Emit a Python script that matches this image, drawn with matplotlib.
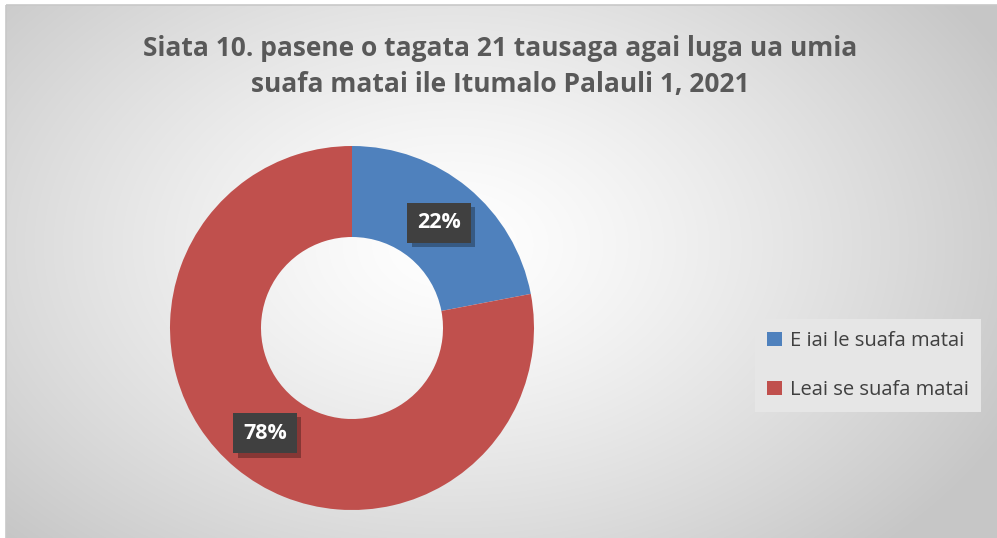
import numpy as np
import matplotlib
matplotlib.use("Agg")
import matplotlib.pyplot as plt
from matplotlib.patches import Rectangle
import matplotlib.patheffects as pe

categories = ["E iai le suafa matai", "Leai se suafa matai"]
values = [22, 78]
colors = ["#4F81BD", "#C0504D"]
title = "Siata 10. pasene o tagata 21 tausaga agai luga ua umia\nsuafa matai ile Itumalo Palauli 1, 2021"

W, H = 997, 538
fig = plt.figure(figsize=(W / 100, H / 100), dpi=100)
fig.patch.set_facecolor("white")

# radial gradient background (chart area starts at x=6, y=5)
X0, Y0 = 6, 5
bg = fig.add_axes([0, 0, 1, 1])
bg.set_xlim(0, W)
bg.set_ylim(H, 0)
bg.axis("off")
gw, gh = W - X0, H - Y0
yy, xx = np.mgrid[0:gh, 0:gw]
cx, cy = gw * 0.45, gh * 0.45
d = np.sqrt(((xx - cx) / (gw * 0.62)) ** 2 + ((yy - cy) / (gh * 0.78)) ** 2)
d = np.clip(d, 0, 1)
v = 1.0 - 0.22 * d ** 1.3
img = np.dstack([v, v, v])
bg.imshow(img, extent=[X0, W, H, Y0], aspect="auto", interpolation="bilinear")
bg.set_xlim(0, W)
bg.set_ylim(H, 0)
bg.add_patch(Rectangle((X0, Y0), W - X0 + 2, H - Y0 + 2, fill=False,
                       edgecolor="#C8C8C8", lw=1.2))

fig.text(0.502, 1 - 66.5 / H, title, ha="center", va="center", fontsize=19,
         fontweight="bold", color="#595959", family="Open Sans", linespacing=1.42)

# donut axes
ax = fig.add_axes([170 / W, 28 / H, 364 / W, 364 / H])
wedges, _ = ax.pie(values, colors=colors, startangle=90, counterclock=False,
                   radius=1.0, wedgeprops=dict(width=0.5, edgecolor="none"))
ax.set_xlim(-1, 1)
ax.set_ylim(-1, 1)
ax.set_aspect("equal")
ax.axis("off")

total = sum(values)
start = 90.0
for v_, w in zip(values, wedges):
    ang = start - 360.0 * v_ / total / 2
    start -= 360.0 * v_ / total
    r = 0.75
    x, y = r * np.cos(np.radians(ang)), r * np.sin(np.radians(ang))
    t = ax.text(x, y, f"{v_}%", ha="center", va="center", fontsize=15.5,
                fontweight="bold", color="white", family="Open Sans",
                bbox=dict(boxstyle="square,pad=0.45", facecolor="#404040", edgecolor="none"))
    t.get_bbox_patch().set_path_effects([
        pe.SimplePatchShadow(offset=(3, -3), shadow_rgbFace="black", alpha=0.3),
        pe.Normal()])

leg = fig.legend(wedges, categories, loc="center", bbox_to_anchor=(868 / W, 1 - 365.5 / H),
                 frameon=True, fancybox=False, labelspacing=1.45,
                 handlelength=0.7, handleheight=0.7, handletextpad=0.4,
                 borderpad=0.6, borderaxespad=0,
                 prop=dict(family="Open Sans", size=14.5))
leg.get_frame().set_facecolor("#E6E6E6")
leg.get_frame().set_edgecolor("none")
leg.get_frame().set_alpha(1)
for t in leg.get_texts():
    t.set_color("#404040")

fig.savefig("out.png", dpi=100)
